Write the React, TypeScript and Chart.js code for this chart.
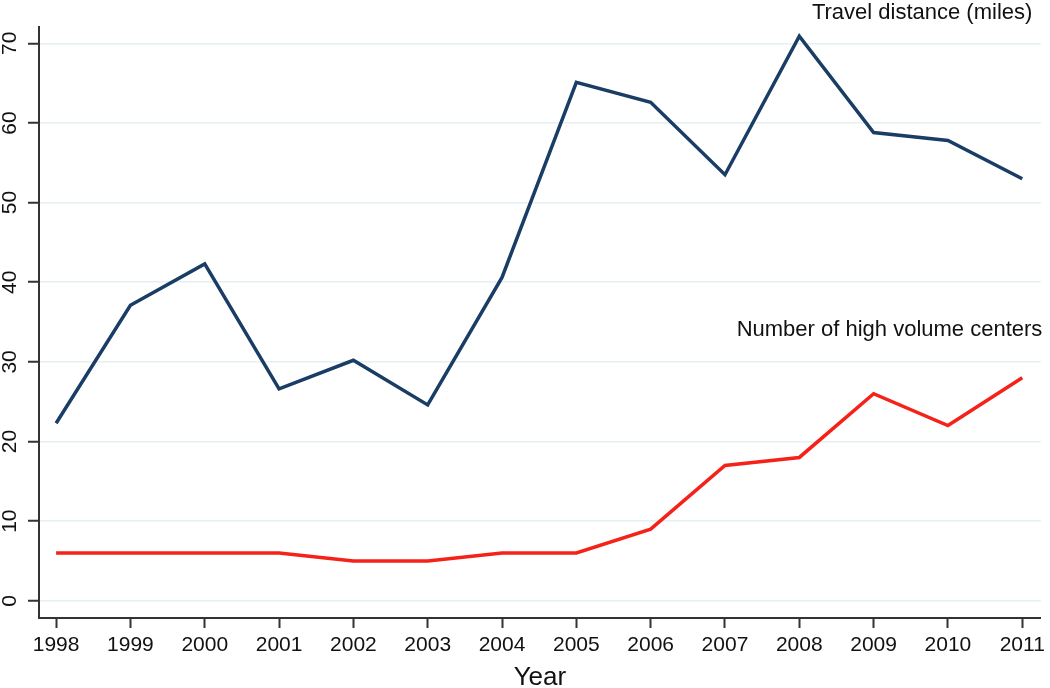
import { useEffect, useRef } from 'react';
import { Chart, registerables } from 'chart.js';

Chart.register(...registerables);

const years = [1998, 1999, 2000, 2001, 2002, 2003, 2004, 2005, 2006, 2007, 2008, 2009, 2010, 2011];
const travelDistance = [22.3, 37.1, 42.3, 26.6, 30.2, 24.6, 40.6, 65.1, 62.6, 53.5, 70.9, 58.8, 57.8, 53.0];
const highVolumeCenters = [6, 6, 6, 6, 5, 5, 6, 6, 9, 17, 18, 26, 22, 28];

const travelLabel = 'Travel distance (miles)';
const centersLabel = 'Number of high volume centers';
const xTitle = 'Year';
const travelLabelValue = 73.1;
const centersLabelValue = 33.3;

const FONT = '"Liberation Sans", Arial, Helvetica, sans-serif';
const TEXT = '#111111';
const AXIS = '#333333';

const annotatePlugin = {
  id: 'annotate',
  afterDraw(chart: any) {
    const ctx = chart.ctx;
    const ys = chart.scales.y;
    const area = chart.chartArea;
    ctx.save();
    ctx.fillStyle = TEXT;
    ctx.font = `21px ${FONT}`;
    ctx.textAlign = 'center';
    ctx.textBaseline = 'middle';
    ys.ticks.forEach((t: any) => {
      const py = ys.getPixelForValue(t.value);
      ctx.save();
      ctx.translate(10, py);
      ctx.rotate(-Math.PI / 2);
      ctx.fillText(String(t.value), 0, 0);
      ctx.restore();
    });
    ctx.font = `22px ${FONT}`;
    ctx.textAlign = 'right';
    ctx.textBaseline = 'alphabetic';
    ctx.fillText(travelLabel, area.right - 8.5, ys.getPixelForValue(travelLabelValue));
    ctx.fillText(centersLabel, area.right + 1.5, ys.getPixelForValue(centersLabelValue));
    ctx.restore();
  },
};

export default function App() {
  const ref = useRef<HTMLCanvasElement | null>(null);

  useEffect(() => {
    if (!ref.current) return;
    const chart = new Chart(ref.current, {
      type: 'line',
      data: {
        datasets: [
          {
            label: travelLabel,
            data: years.map((x, i) => ({ x, y: travelDistance[i] })),
            borderColor: '#1a3d66',
            borderWidth: 3.5,
            pointRadius: 0,
            tension: 0,
          },
          {
            label: centersLabel,
            data: years.map((x, i) => ({ x, y: highVolumeCenters[i] })),
            borderColor: '#f5221a',
            borderWidth: 3.5,
            pointRadius: 0,
            tension: 0,
          },
        ],
      },
      options: {
        animation: false,
        responsive: false,
        layout: { padding: { top: 27, right: 8.5, left: 0, bottom: 0 } },
        plugins: { legend: { display: false }, tooltip: { enabled: false } },
        scales: {
          x: {
            type: 'linear',
            min: 1997.77,
            max: 2011.25,
            afterFit: (s: any) => { s.height = 70; },
            border: { display: true, color: AXIS, width: 2 },
            grid: { display: true, drawOnChartArea: false, drawTicks: true, tickLength: 10, tickColor: AXIS, tickWidth: 2 },
            ticks: {
              stepSize: 1,
              includeBounds: false,
              autoSkip: false,
              maxRotation: 0,
              padding: 5,
              color: TEXT,
              font: { family: FONT, size: 21 },
              callback: (v: any) => String(v),
            },
            title: {
              display: true,
              text: xTitle,
              color: TEXT,
              font: { family: FONT, size: 26, lineHeight: 0.8 },
              padding: { top: 0, bottom: 0 },
            },
          },
          y: {
            type: 'linear',
            min: -2.16,
            max: 72.05,
            afterFit: (s: any) => { s.width = 39; },
            border: { display: true, color: AXIS, width: 2 },
            grid: { display: true, drawOnChartArea: true, color: '#e4f0f2', lineWidth: 1.5, drawTicks: true, tickLength: 11, tickColor: AXIS, tickWidth: 2 },
            ticks: { stepSize: 10, includeBounds: false, display: false },
          },
        },
      },
      plugins: [annotatePlugin],
    });
    return () => chart.destroy();
  }, []);

  return (
    <div style={{ position: 'fixed', left: 0, top: 0, width: 1050, height: 688, background: '#fff' }}>
      <canvas ref={ref} width={1050} height={688} style={{ display: 'block' }} />
    </div>
  );
}
